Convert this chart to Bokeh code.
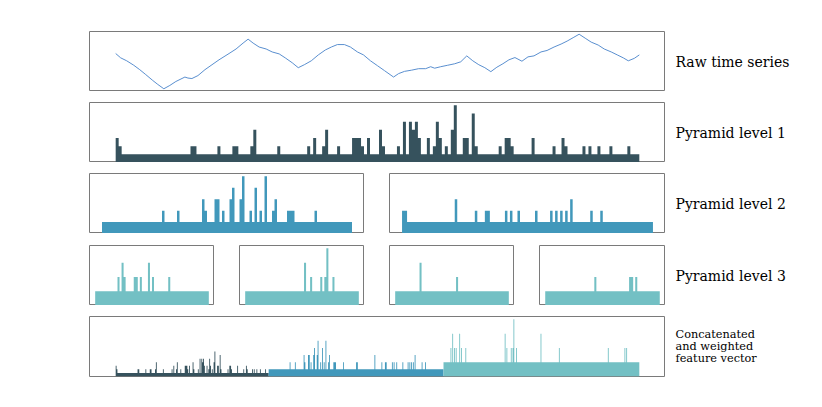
import numpy as np
from bokeh.plotting import figure
from bokeh.layouts import row, column
from bokeh.models import Range1d, ColumnDataSource
from bokeh.embed import file_html
from bokeh.resources import INLINE
from bokeh.core.properties import value

# ---------------- data ----------------
ts_t = [0, 5, 11, 18, 24, 30, 37, 42, 48, 54, 60, 69, 72, 76, 82, 89, 96, 103,
        113, 120, 127, 132, 137, 143, 150, 156, 163, 169, 176, 182, 188, 195,
        202, 209, 215, 221, 228, 234, 241, 247, 254, 261, 268, 277, 282, 288,
        295, 302, 309, 314, 318, 324, 331, 338, 344, 350, 356, 362, 368, 374,
        380, 386, 392, 398, 405, 411, 417, 424, 430, 437, 444, 450, 456, 462,
        468, 474, 481, 487, 494, 500, 506, 511, 517, 522]
ts_v = [37.4, 33, 30, 25.5, 21, 16, 10, 6, 1.6, 5, 9, 13.5, 12.5, 12, 15, 21,
        26, 31, 37.4, 42, 48, 52, 48, 44, 42, 39, 37, 33, 28, 23, 26, 30, 36,
        41, 44, 46.5, 46.5, 44, 39, 36, 30, 25, 20, 13.5, 17, 19.3, 20.5, 22,
        22, 24, 22.5, 24, 25.5, 27, 29, 35, 30, 26, 23, 19, 23.5, 27, 31, 33.3,
        29.6, 34, 35, 39, 40.5, 44, 47, 50, 53.5, 57, 53, 49, 46, 42, 39, 36,
        33, 30, 32.5, 36]

level1_nbins = 175
level1_spike_bins = [0, 1, 25, 26, 34, 39, 40, 45, 46, 54, 64, 66, 69, 70, 74,
                     79, 80, 81, 82, 84, 88, 89, 94, 96, 98, 99, 100, 101, 104,
                     106, 107, 108, 110, 112, 113, 116, 117, 119, 120, 128, 130,
                     131, 132, 139, 146, 149, 150, 156, 158, 161, 165, 171]
level1_spike_vals = [3, 2, 2, 2, 2, 2, 2, 2, 4, 2, 2, 3, 2, 4, 2,
                     3, 3, 3, 2, 3, 4, 2, 2, 5, 5, 4, 5, 3, 3,
                     2, 5, 3, 2, 4, 7, 3, 3, 6, 2, 2, 3,
                     3, 2, 3, 2, 3, 2, 2, 2, 2, 2, 2]

level2_nbins = 100
level2a_spike_bins = [24, 30, 40, 41, 45, 46, 48, 51, 52, 55, 56, 59, 61, 63,
                      65, 68, 69, 74, 75, 76, 85]
level2a_spike_vals = [2, 2, 3, 2, 3, 3, 2, 3, 4, 3, 5, 2, 4, 2,
                      5, 2, 3, 2, 2, 2, 2]
level2b_spike_bins = [0, 1, 21, 29, 33, 34, 41, 43, 46, 53, 59, 61, 63, 65,
                      67, 75, 79]
level2b_spike_vals = [2, 2, 3, 2, 2, 2, 2, 2, 2, 2, 2, 2, 2, 2,
                      3, 2, 2]

level3_nbins = 56
level3a_spike_bins = [11, 13, 14, 19, 20, 22, 26, 28, 36]
level3a_spike_vals = [2, 3, 2, 2, 2, 2, 3, 2, 2]
level3b_spike_bins = [29, 32, 37, 39, 40, 43]
level3b_spike_vals = [3, 2, 2, 2, 4, 2]
level3c_spike_bins = [12, 30]
level3c_spike_vals = [3, 2]
level3d_spike_bins = [24, 41, 42, 44]
level3d_spike_vals = [2, 2, 2, 2]

# level-3 block of the concatenated vector
concat_l3_spike_bins = [8, 10, 12, 14, 18, 20, 25, 70, 72, 77, 79, 80, 83,
                        111, 132, 188, 207, 209]
concat_l3_spike_vals = [2, 3, 2, 2, 3, 2, 2, 3, 2, 2, 2, 4, 2,
                        3, 2, 2, 2, 2]

level_weights = [0.25, 0.5, 1.0]
level_colors = ["#36525d", "#4198bb", "#73c0c4"]
line_color = "#5a8fcf"
outline_color = "#7a7a7a"

row_labels = ["Raw time series", "Pyramid level 1", "Pyramid level 2",
              "Pyramid level 3"]
concat_label = ["Concatenated", "and weighted", "feature vector"]

FONT = "DejaVu Serif"
FONT_SIZE = "14px"
FONT_SIZE_SMALL = "11.3px"


def hist(n, bins, vals):
    h = np.ones(n)
    for b, v in zip(bins, vals):
        h[b] = v
    return h


h1 = hist(level1_nbins, level1_spike_bins, level1_spike_vals)
h2 = [hist(level2_nbins, level2a_spike_bins, level2a_spike_vals),
      hist(level2_nbins, level2b_spike_bins, level2b_spike_vals)]
h3 = [hist(level3_nbins, level3a_spike_bins, level3a_spike_vals),
      hist(level3_nbins, level3b_spike_bins, level3b_spike_vals),
      hist(level3_nbins, level3c_spike_bins, level3c_spike_vals),
      hist(level3_nbins, level3d_spike_bins, level3d_spike_vals)]
hc3 = hist(4 * level3_nbins, concat_l3_spike_bins, concat_l3_spike_vals)

# ---------------- layout helpers ----------------
FH = 60
LABEL_W = 149
LEFT0 = 89
TOP0 = 31


def panel(fw, left, top, xr, yr, bottom=0):
    p = figure(title=None, frame_width=fw, frame_height=FH, x_range=xr, y_range=yr,
               x_axis_type=None, y_axis_type=None, toolbar_location=None,
               output_backend="svg", min_border_left=left, min_border_right=0,
               min_border_top=top, min_border_bottom=bottom)
    p.outline_line_color = outline_color
    p.outline_line_width = 1
    p.grid.visible = False
    p.background_fill_color = "white"
    p.border_fill_color = "white"
    return p


def label_fig(top, lines, bottom=0, size=FONT_SIZE, spacing=12.3):
    p = figure(title=None, frame_width=LABEL_W, frame_height=FH,
               x_range=Range1d(0, LABEL_W), y_range=Range1d(0, FH),
               x_axis_type=None, y_axis_type=None, toolbar_location=None,
               output_backend="svg", min_border_left=0, min_border_right=0,
               min_border_top=top, min_border_bottom=bottom)
    p.outline_line_color = None
    p.grid.visible = False
    n = len(lines)
    ys = [FH / 2 + spacing * ((n - 1) / 2 - i) for i in range(n)]
    src = ColumnDataSource(dict(x=[10] * n, y=ys, t=lines))
    p.text(x="x", y="y", text="t", source=src, text_font=value(FONT),
           text_font_size=size, text_baseline="middle", text_align="left",
           text_color="black")
    return p


def xr_for(n):
    return Range1d(-0.05 * n, 1.05 * n)


def draw_hist(p, h, color, offset=0):
    n = len(h)
    edges = np.arange(n + 1) + offset
    tops = np.append(h, h[-1])
    src = ColumnDataSource(dict(x=edges, y2=tops, y1=np.zeros(n + 1)))
    p.varea_step(x="x", y1="y1", y2="y2", step_mode="after", source=src,
                 fill_color=color)


# row 1: raw series
tmin, tmax = min(ts_t), max(ts_t)
vmin, vmax = min(ts_v), max(ts_v)
tr = tmax - tmin
vr = vmax - vmin
p_raw = panel(576, LEFT0, TOP0, Range1d(tmin - 0.05 * tr, tmax + 0.05 * tr),
              Range1d(vmin - 0.05 * vr, vmax + 0.05 * vr))
p_raw.line(ts_t, ts_v, line_color=line_color, line_width=1)
row1 = row(p_raw, label_fig(TOP0, [row_labels[0]]))

# row 2: level 1
y1 = Range1d(0, h1.max() * 1.05)
p_l1 = panel(576, LEFT0, 11, xr_for(level1_nbins), y1)
draw_hist(p_l1, h1, level_colors[0])
row2 = row(p_l1, label_fig(11, [row_labels[1]]))

# row 3: level 2
y2max = max(h.max() for h in h2) * 1.05
row3_figs = []
widths2 = [275, 276]
lefts2 = [LEFT0, 25]
for i, h in enumerate(h2):
    p = panel(widths2[i], lefts2[i], 11, xr_for(level2_nbins), Range1d(0, y2max))
    draw_hist(p, h, level_colors[1])
    row3_figs.append(p)
row3 = row(*row3_figs, label_fig(11, [row_labels[2]]))

# row 4: level 3
y3max = max(h.max() for h in h3) * 1.05
row4_figs = []
widths3 = [125, 125, 125, 126]
lefts3 = [LEFT0, 25, 25, 25]
for i, h in enumerate(h3):
    p = panel(widths3[i], lefts3[i], 12, xr_for(level3_nbins), Range1d(0, y3max))
    draw_hist(p, h, level_colors[2])
    row4_figs.append(p)
row4 = row(*row4_figs, label_fig(12, [row_labels[3]]))

# row 5: concatenated and weighted
seg_vals = [h1 * level_weights[0],
            np.concatenate(h2) * level_weights[1],
            hc3 * level_weights[2]]
total = sum(len(s) for s in seg_vals)
cmax = max(s.max() for s in seg_vals)
p_c = panel(576, LEFT0, 11, xr_for(total), Range1d(0, cmax * 1.05), bottom=5)
off = 0
for s, c in zip(seg_vals, level_colors):
    draw_hist(p_c, s, c, offset=off)
    off += len(s)
row5 = row(p_c, label_fig(11, concat_label, bottom=5, size=FONT_SIZE_SMALL))

layout = column(row1, row2, row3, row4, row5)

open("out.html", "w").write(file_html(layout, INLINE))
